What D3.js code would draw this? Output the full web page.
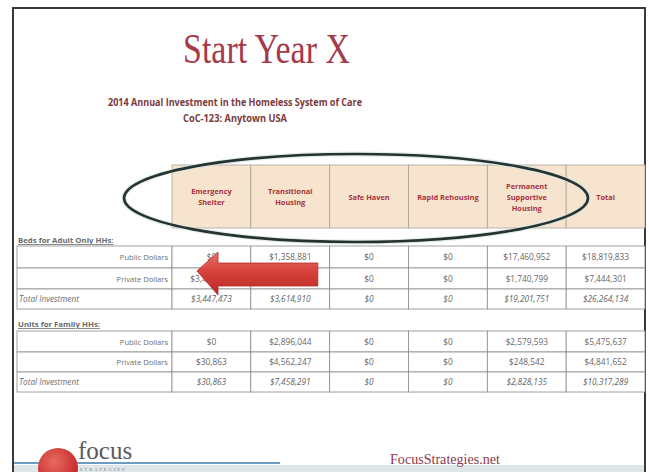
<!DOCTYPE html>
<html><head><meta charset="utf-8">
<script src="https://cdn.jsdelivr.net/npm/d3@7"></script>
<style>html,body{margin:0;padding:0;background:#fff;}svg{display:block;}</style>
</head><body>
<script>
const title = "Start Year X";
const subtitle1 = "2014 Annual Investment in the Homeless System of Care";
const subtitle2 = "CoC-123: Anytown USA";
const columns = ["Emergency Shelter","Transitional Housing","Safe Haven","Rapid Rehousing","Permanent Supportive Housing","Total"];
const headerLines = [["Emergency","Shelter"],["Transitional","Housing"],["Safe Haven"],["Rapid Rehousing"],["Permanent","Supportive","Housing"],["Total"]];
const sections = ["Beds for Adult Only HHs:","Units for Family HHs:"];
const rowLabels = ["Public Dollars","Private Dollars","Total Investment"];
const adultPublic  = [0, 1358881, 0, 0, 17460952, 18819833];
const adultPrivate = [3447473, 2256029, 0, 0, 1740799, 7444301];
const adultTotal   = [3447473, 3614910, 0, 0, 19201751, 26264134];
const familyPublic  = [0, 2896044, 0, 0, 2579593, 5475637];
const familyPrivate = [30863, 4562247, 0, 0, 248542, 4841652];
const familyTotal   = [30863, 7458291, 0, 0, 2828135, 10317289];
const footerRight = "FocusStrategies.net";

const W = 649, H = 472;
const svg = d3.select("body").append("svg").attr("width", W).attr("height", H);
const defs = svg.append("defs");
const grad = defs.append("linearGradient").attr("id","arrowG").attr("x1",0).attr("y1",0).attr("x2",0).attr("y2",1);
grad.append("stop").attr("offset","0%").attr("stop-color","#e8736a");
grad.append("stop").attr("offset","45%").attr("stop-color","#d8413b");
grad.append("stop").attr("offset","100%").attr("stop-color","#b92a28");
const rg = defs.append("radialGradient").attr("id","logoG").attr("cx","40%").attr("cy","35%").attr("r","65%");
rg.append("stop").attr("offset","0%").attr("stop-color","#e86a5e");
rg.append("stop").attr("offset","100%").attr("stop-color","#c3282b");

// slide frame
svg.append("rect").attr("x",13).attr("y",8).attr("width",632).attr("height",470)
  .attr("fill","#fff").attr("stroke","#3a3a3a").attr("stroke-width",2);

// titles
svg.append("text").attr("x",183).attr("y",63)
  .attr("font-family","Liberation Serif, Times New Roman, serif").attr("font-size",42)
  .attr("textLength",167).attr("lengthAdjust","spacingAndGlyphs")
  .attr("fill","#a63a4a").text(title);
svg.append("text").attr("x",108).attr("y",106)
  .attr("font-family","Open Sans, sans-serif").attr("font-weight","bold").attr("font-size",10.5)
  .attr("textLength",254).attr("lengthAdjust","spacingAndGlyphs")
  .attr("fill","#7b3a3c").text(subtitle1);
svg.append("text").attr("x",183).attr("y",122)
  .attr("font-family","Open Sans, sans-serif").attr("font-weight","bold").attr("font-size",10.5)
  .attr("textLength",104).attr("lengthAdjust","spacingAndGlyphs")
  .attr("fill","#7b3a3c").text(subtitle2);

// scales
const x = d3.scaleBand().domain(columns).range([172, 645]).padding(0);
const labelLeft = 17, labelRight = 172;
const fmt = v => "$" + d3.format(",")(v);

// header
const headerTop = 165, headerBot = 228;
const hg = svg.append("g");
hg.selectAll("rect").data(columns).join("rect")
  .attr("x", d => x(d)).attr("y", headerTop).attr("width", x.bandwidth()).attr("height", headerBot-headerTop)
  .attr("fill","#f7e4cf").attr("stroke","#a9a29a").attr("stroke-width",0.8);
columns.forEach((c,i) => {
  const lines = headerLines[i];
  const cy = (headerTop+headerBot)/2, lh = 11;
  lines.forEach((ln,j) => {
    hg.append("text").attr("x", x(c)+x.bandwidth()/2)
      .attr("y", cy + (j-(lines.length-1)/2)*lh + 3)
      .attr("text-anchor","middle").attr("font-family","Open Sans, sans-serif")
      .attr("font-weight","bold").attr("font-size",7.4).attr("fill","#a8323e").text(ln);
  });
});

// table blocks
const blocks = [
  {label: sections[0], labelY: 243, rows: [adultPublic, adultPrivate, adultTotal], ys: [246, 268, 289, 309]},
  {label: sections[1], labelY: 327, rows: [familyPublic, familyPrivate, familyTotal], ys: [331, 352, 372, 392]}
];
blocks.forEach(b => {
  const g = svg.append("g");
  g.append("text").attr("x",18).attr("y",b.labelY).attr("font-family","Open Sans, sans-serif")
    .attr("font-weight","bold").attr("font-size",7.8).attr("fill","#6a6a6a")
    .attr("text-decoration","underline").text(b.label);
  b.rows.forEach((vals, r) => {
    const y0 = b.ys[r], y1 = b.ys[r+1], ym = (y0+y1)/2 + 3;
    const isTotal = r === 2;
    g.append("rect").attr("x",labelLeft).attr("y",y0).attr("width",labelRight-labelLeft).attr("height",y1-y0)
      .attr("fill","#fff").attr("stroke","#8a8a8a").attr("stroke-width",0.8);
    g.append("text").attr("x", isTotal ? 19 : 168).attr("y", ym)
      .attr("text-anchor", isTotal ? "start" : "end").attr("font-family","Open Sans, sans-serif")
      .attr("font-style", isTotal ? "italic" : "normal").attr("font-size", isTotal ? 8.2 : 7.6).attr("fill","#6e6e6e")
      .text(rowLabels[r]);
    g.selectAll(null).data(columns).join("rect")
      .attr("x", d => x(d)).attr("y", y0).attr("width", x.bandwidth()).attr("height", y1-y0)
      .attr("fill","#fff").attr("stroke","#8a8a8a").attr("stroke-width",0.8);
    g.selectAll(null).data(columns).join("text")
      .attr("x", d => x(d)+x.bandwidth()/2).attr("y", ym).attr("text-anchor","middle")
      .attr("font-family","Open Sans, sans-serif").attr("font-style", isTotal ? "italic" : "normal")
      .attr("font-size",8.3).attr("fill","#666")
      .text((d,i) => fmt(vals[i]));
  });
});

// ellipse highlight
svg.append("ellipse").attr("cx",356).attr("cy",198).attr("rx",232).attr("ry",44)
  .attr("fill","none").attr("stroke","#d8e4e0").attr("stroke-width",5).attr("opacity",0.7);
svg.append("ellipse").attr("cx",356).attr("cy",198).attr("rx",232).attr("ry",44)
  .attr("fill","none").attr("stroke","#24332f").attr("stroke-width",2.6);

// arrow
const ax = x(columns[0]) + 25, ay = 271;
const arrowPts = [[ax,ay],[ax+21,ay-19],[ax+21,ay-8],[x(columns[1])+67,ay-8],[x(columns[1])+67,ay+15],[ax+21,ay+15],[ax+21,ay+24]];
svg.append("path").attr("d", d3.line()(arrowPts) + "Z")
  .attr("fill","url(#arrowG)").attr("stroke","#b02a28").attr("stroke-width",0.8);

// footer
svg.append("line").attr("x1",14).attr("x2",280).attr("y1",463).attr("y2",463)
  .attr("stroke","#6d9cc0").attr("stroke-width",2);
svg.append("rect").attr("x",14).attr("y",465).attr("width",630).attr("height",7).attr("fill","#dfe6ea");
svg.append("circle").attr("cx",58).attr("cy",468).attr("r",20).attr("fill","url(#logoG)");
svg.append("text").attr("x",78).attr("y",459).attr("font-family","Liberation Serif, serif")
  .attr("font-size",25).attr("fill","#5a5a5a").text("focus");
svg.append("text").attr("x",80).attr("y",471).attr("font-family","Liberation Serif, serif")
  .attr("font-size",4.5).attr("letter-spacing",2).attr("fill","#7a7a7a").text("STRATEGIES");
svg.append("text").attr("x",390).attr("y",464).attr("font-family","Liberation Serif, serif")
  .attr("font-size",15.5).attr("textLength",110).attr("lengthAdjust","spacingAndGlyphs")
  .attr("fill","#8a3a4c").text(footerRight);
</script>
</body></html>
